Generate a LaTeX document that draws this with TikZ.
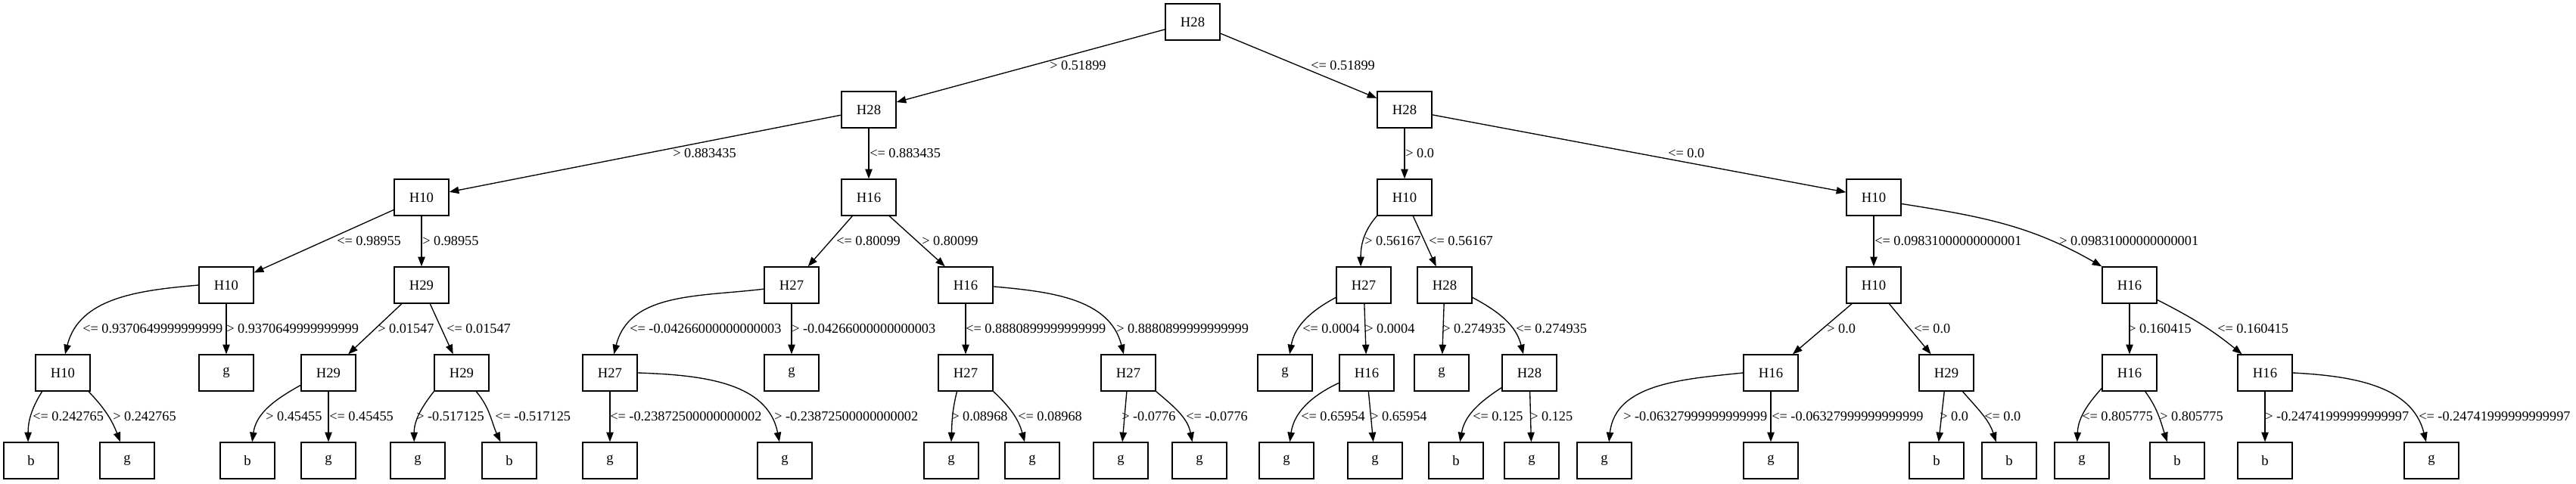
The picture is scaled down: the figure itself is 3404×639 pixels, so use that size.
\documentclass[tikz,border=0pt]{standalone}
\usepackage{fontspec}
\setmainfont{Liberation Serif}
\usetikzlibrary{arrows.meta}
\begin{document}
\begin{tikzpicture}[x=0.75pt,y=0.75pt,
  box/.style={draw, line width=1pt, minimum width=54pt, minimum height=36pt, inner sep=0pt, font=\fontsize{14pt}{16pt}\selectfont},
  lab/.style={anchor=west, inner sep=0pt, font=\fontsize{13.7pt}{16pt}\selectfont},
  conn/.style={draw, line width=1pt, -{Triangle[length=9.5pt,width=7pt]}}]
\useasboundingbox (0,0) rectangle (3404,639);
% level 0
\node[box] (n0) at (1576,610) {H28};
% level 1
\node[box] (n1) at (1148,494) {H28};
\node[box] (n2) at (1856,494) {H28};
% level 2
\node[box] (n3) at (557,378) {H10};
\node[box] (n4) at (1148,378) {H16};
\node[box] (n5) at (1856,378) {H10};
\node[box] (n6) at (2476,378) {H10};
% level 3
\node[box] (n7) at (299,262) {H10};
\node[box] (n8) at (557,262) {H29};
\node[box] (n9) at (1046,262) {H27};
\node[box] (n10) at (1276,262) {H16};
\node[box] (n11) at (1802,262) {H27};
\node[box] (n12) at (1909,262) {H28};
\node[box] (n13) at (2476,262) {H10};
\node[box] (n14) at (2814,262) {H16};
% level 4
\node[box] (n15) at (83,146) {H10};
\node[box] (n16) at (299,146) {g};
\node[box] (n17) at (434,146) {H29};
\node[box] (n18) at (610,146) {H29};
\node[box] (n19) at (806,146) {H27};
\node[box] (n20) at (1046,146) {g};
\node[box] (n21) at (1276,146) {H27};
\node[box] (n22) at (1491,146) {H27};
\node[box] (n23) at (1698,146) {g};
\node[box] (n24) at (1806,146) {H16};
\node[box] (n25) at (1905,146) {g};
\node[box] (n26) at (2021,146) {H28};
\node[box] (n27) at (2340,146) {H16};
\node[box] (n28) at (2572,146) {H29};
\node[box] (n29) at (2814,146) {H16};
\node[box] (n30) at (2993,146) {H16};
% level 5
\node[box] (n31) at (41,30) {b};
\node[box] (n32) at (168,30) {g};
\node[box] (n33) at (327,30) {b};
\node[box] (n34) at (434,30) {g};
\node[box] (n35) at (552,30) {g};
\node[box] (n36) at (673,30) {b};
\node[box] (n37) at (806,30) {g};
\node[box] (n38) at (1037,30) {g};
\node[box] (n39) at (1257,30) {g};
\node[box] (n40) at (1364,30) {g};
\node[box] (n41) at (1481,30) {g};
\node[box] (n42) at (1585,30) {g};
\node[box] (n43) at (1700,30) {g};
\node[box] (n44) at (1817,30) {g};
\node[box] (n45) at (1924,30) {b};
\node[box] (n46) at (2024,30) {g};
\node[box] (n47) at (2120,30) {g};
\node[box] (n48) at (2340,30) {g};
\node[box] (n49) at (2559,30) {b};
\node[box] (n50) at (2655,30) {b};
\node[box] (n51) at (2751,30) {g};
\node[box] (n52) at (2877,30) {b};
\node[box] (n53) at (2993,30) {b};
\node[box] (n54) at (3213,30) {g};
% straight connectors
\foreach \p/\c in {n0/n1,n0/n2,n1/n3,n1/n4,n2/n5,n2/n6,n3/n7,n3/n8,n4/n9,n4/n10,n5/n12,n6/n13,
  n7/n16,n8/n17,n8/n18,n9/n20,n10/n21,n11/n24,n12/n25,n13/n27,n13/n28,n14/n29,
  n17/n34,n19/n37,n22/n41,n24/n44,n26/n46,n27/n48,n28/n49,n30/n53}
  \draw[conn] (\p) -- (\c);
% curved connectors
\draw[conn] (n5.south west) to[out=229,in=90] (n11.99);
\draw[conn] (n6.347) to[out=-9,in=150] (n14.north west);
\draw[conn] (n7.west) to[out=185,in=76] (n15.83);
\draw[conn] (n9.188) to[out=187,in=76] (n19.78);
\draw[conn] (n10.357) to[out=-5,in=104] (n22.104);
\draw[conn] (n11.204) to[out=208,in=80] (n23.76);
\draw[conn] (n12.336) to[out=-28,in=104] (n26.108);
\draw[conn] (n14.332) to[out=-27,in=141] (n30.141);
\draw[conn] (n15.222) to[out=238,in=90] (n31.99);
\draw[conn] (n15.324) to[out=-46,in=111] (n32.110);
\draw[conn] (n17.204) to[out=209,in=82] (n33.76);
\draw[conn] (n18.south west) to[out=232,in=90] (n35.101);
\draw[conn] (n18.308) to[out=-50,in=115] (n36.115);
\draw[conn] (n19.east) to[out=-2,in=101] (n38.106);
\draw[conn] (n21.245) to[out=256,in=88] (n39.north);
\draw[conn] (n21.south east) to[out=-43,in=105] (n40.112);
\draw[conn] (n22.south east) to[out=-40,in=101] (n42.111);
\draw[conn] (n24.200) to[out=205,in=82] (n43.80);
\draw[conn] (n26.208) to[out=213,in=80] (n45.78);
\draw[conn] (n27.west) to[out=186,in=84] (n47.76);
\draw[conn] (n28.311) to[out=-49,in=108] (n50.125);
\draw[conn] (n29.209) to[out=228,in=88] (n51.104);
\draw[conn] (n29.310) to[out=-54,in=108] (n52.118);
\draw[conn] (n30.east) to[out=-3,in=104] (n54.106);
% labels level 0-1
\node[lab] (l1) at (1387,552) {> 0.51899};
\node[lab] (l2) at (1732,552) {<= 0.51899};
% labels level 1-2
\node[lab] (l3) at (889,436) {> 0.883435};
\node[lab] (l4) at (1149,436) {<= 0.883435};
\node[lab] (l5) at (1857,436) {> 0.0};
\node[lab] (l6) at (2204,436) {<= 0.0};
% labels level 2-3
\node[lab] (l7) at (445,320) {<= 0.98955};
\node[lab] (l8) at (558,320) {> 0.98955};
\node[lab] (l9) at (1105,320) {<= 0.80099};
\node[lab] (l10) at (1218,320) {> 0.80099};
\node[lab] (l11) at (1803,320) {> 0.56167};
\node[lab] (l12) at (1888,320) {<= 0.56167};
\node[lab] (l13) at (2477,320) {<= 0.09831000000000001};
\node[lab] (l14) at (2721,320) {> 0.09831000000000001};
% labels level 3-4
\node[lab] (l15) at (109,204) {<= 0.9370649999999999};
\node[lab] (l16) at (299,204) {> 0.9370649999999999};
\node[lab] (l17) at (499,204) {> 0.01547};
\node[lab] (l18) at (590,204) {<= 0.01547};
\node[lab] (l19) at (832,204) {<= -0.04266000000000003};
\node[lab] (l20) at (1046,204) {> -0.04266000000000003};
\node[lab] (l21) at (1276,204) {<= 0.8880899999999999};
\node[lab] (l22) at (1475,204) {> 0.8880899999999999};
\node[lab] (l23) at (1721,204) {<= 0.0004};
\node[lab] (l24) at (1804,204) {> 0.0004};
\node[lab] (l25) at (1906,204) {> 0.274935};
\node[lab] (l26) at (2003,204) {<= 0.274935};
\node[lab] (l27) at (2414,204) {> 0.0};
\node[lab] (l28) at (2529,204) {<= 0.0};
\node[lab] (l29) at (2812,204) {> 0.160415};
\node[lab] (l30) at (2930,204) {<= 0.160415};
% labels level 4-5
\node[lab] (l31) at (43,88) {<= 0.242765};
\node[lab] (l32) at (149,88) {> 0.242765};
\node[lab] (l33) at (351,88) {> 0.45455};
\node[lab] (l34) at (435,88) {<= 0.45455};
\node[lab] (l35) at (550,88) {> -0.517125};
\node[lab] (l36) at (654,88) {<= -0.517125};
\node[lab] (l37) at (806,88) {<= -0.23872500000000002};
\node[lab] (l38) at (1023,88) {> -0.23872500000000002};
\node[lab] (l39) at (1257,88) {> 0.08968};
\node[lab] (l40) at (1345,88) {<= 0.08968};
\node[lab] (l41) at (1482,88) {> -0.0776};
\node[lab] (l42) at (1567,88) {<= -0.0776};
\node[lab] (l43) at (1719,88) {<= 0.65954};
\node[lab] (l44) at (1811,88) {> 0.65954};
\node[lab] (l45) at (1946,88) {<= 0.125};
\node[lab] (l46) at (2022,88) {> 0.125};
\node[lab] (l47) at (2145,88) {> -0.06327999999999999};
\node[lab] (l48) at (2341,88) {<= -0.06327999999999999};
\node[lab] (l49) at (2563,88) {> 0.0};
\node[lab] (l50) at (2622,88) {<= 0.0};
\node[lab] (l51) at (2751,88) {<= 0.805775};
\node[lab] (l52) at (2854,88) {> 0.805775};
\node[lab] (l53) at (2993,88) {> -0.24741999999999997};
\node[lab] (l54) at (3196,88) {<= -0.24741999999999997};
\end{tikzpicture}
\end{document}
